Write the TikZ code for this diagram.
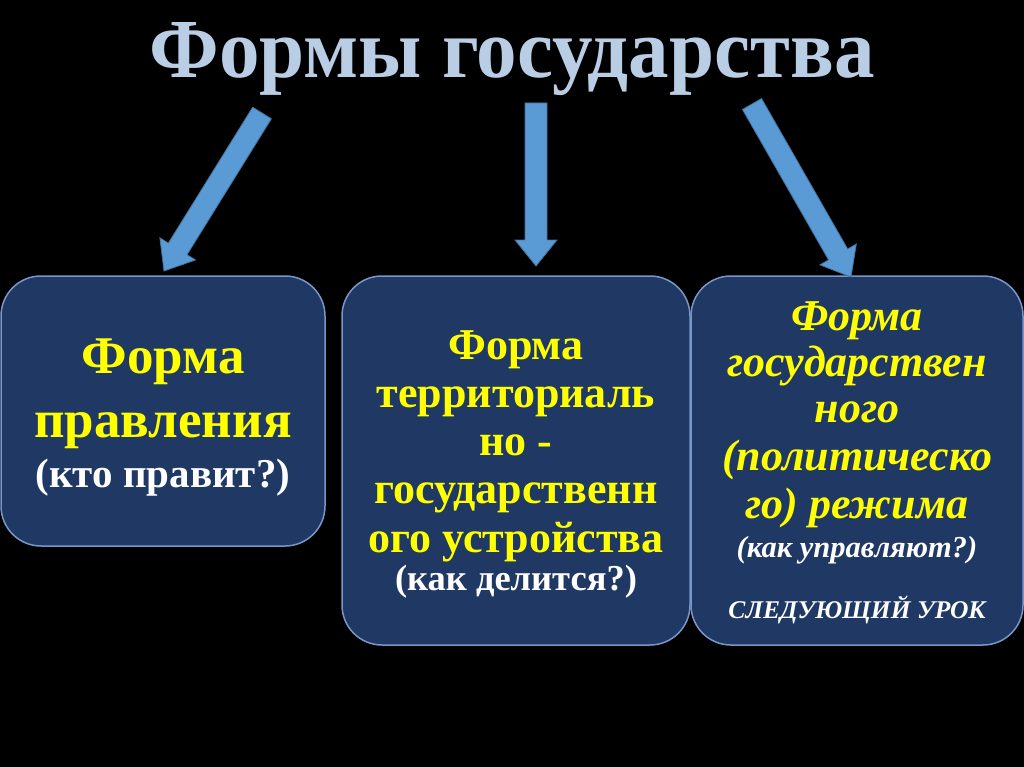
\documentclass[tikz,border=0pt]{standalone}
\usepackage{fontspec}
\setmainfont{Liberation Serif}
\usetikzlibrary{calc}
\definecolor{titlecol}{RGB}{185,205,229}
\definecolor{boxfill}{RGB}{31,56,100}
\definecolor{boxline}{RGB}{120,150,200}
\definecolor{arrowfill}{RGB}{91,155,213}
\definecolor{arrowline}{RGB}{65,113,156}
\definecolor{yel}{RGB}{255,255,0}
\tikzset{
  x=1pt, y=-1pt,
  card/.style={draw=boxline, line width=1.5pt, fill=boxfill, rounded corners=40pt, inner sep=0pt},
  bigarrow/.style={draw=arrowline, line width=0.8pt, fill=arrowfill, line join=miter},
  ytext/.style={text=yel, font=\bfseries\fontsize{53}{60}\selectfont, anchor=base, inner sep=0pt},
  ytextm/.style={text=yel, font=\bfseries\fontsize{44}{50}\selectfont, anchor=base, inner sep=0pt},
  yitext/.style={text=yel, font=\bfseries\itshape\fontsize{44}{50}\selectfont, anchor=base, inner sep=0pt},
  wtext/.style={text=white, font=\bfseries\fontsize{41}{48}\selectfont, anchor=base, inner sep=0pt},
  wtextm/.style={text=white, font=\bfseries\fontsize{36.5}{42}\selectfont, anchor=base, inner sep=0pt},
  witext/.style={text=white, font=\bfseries\itshape\fontsize{30.5}{36}\selectfont, anchor=base, inner sep=0pt},
  witextcaps/.style={text=white, font=\bfseries\itshape\fontsize{25.5}{30}\selectfont, anchor=base, inner sep=0pt},
  titletext/.style={text=titlecol, font=\bfseries\fontsize{84}{92}\selectfont, anchor=base, inner sep=0pt},
}
\newcommand{\blockarrow}[2]{%
  \draw[bigarrow] let \p1=(#1), \p2=(#2), \n1={atan2(\y2-\y1,\x2-\x1)}, \n2={veclen(\x2-\x1,\y2-\y1)} in
    ($(\p1)+(\n1+90:11pt)$) --
    ($(\p1)+(\n1:\n2-26pt)+(\n1+90:11pt)$) --
    ($(\p1)+(\n1:\n2-26pt)+(\n1+90:21pt)$) --
    (\p2) --
    ($(\p1)+(\n1:\n2-26pt)+(\n1-90:21pt)$) --
    ($(\p1)+(\n1:\n2-26pt)+(\n1-90:11pt)$) --
    ($(\p1)+(\n1-90:11pt)$) -- cycle;}
\begin{document}
\begin{tikzpicture}
\fill[black] (0,0) rectangle (1024,767);
\useasboundingbox (0,0) rectangle (1024,767);
% title
\node (title) [titletext] at (512,78) {\scalebox{0.965}[1]{Формы государства}};
% boxes
\node (b1) [card, minimum width=324pt, minimum height=270pt] at (163,411) {};
\node (b2) [card, minimum width=348pt, minimum height=369pt] at (516,460.5) {};
\node (b3) [card, minimum width=332pt, minimum height=369pt] at (857,460.5) {};
% arrows
\coordinate (t1) at (262,113);
\coordinate (h1) at (164,271);
\coordinate (t2) at (536,103);
\coordinate (h2) at (536,266);
\coordinate (t3) at (752,104);
\coordinate (h3) at (851,277);
\blockarrow{t1}{h1}
\blockarrow{t2}{h2}
\blockarrow{t3}{h3}
% box 1 text
\node[ytext] at (163,373) {Форма};
\node[ytext] at (163,437) {правления};
\node[wtext] at (163,487) {(кто правит?)};
% box 2 text
\node[ytextm] at (516,359) {Форма};
\node[ytextm] at (516,407) {территориаль};
\node[ytextm] at (516,455) {но -};
\node[ytextm] at (516,503) {государственн};
\node[ytextm] at (516,552) {ого устройства};
\node[wtextm] at (516,590) {(как делится?)};
% box 3 text
\node[yitext] at (857,330) {Форма};
\node[yitext] at (857,376) {государствен};
\node[yitext] at (857,422) {ного};
\node[yitext] at (857,470) {(политическо};
\node[yitext] at (857,518) {го) режима};
\node[witext] at (857,557) {(как управляют?)};
\node[witextcaps] at (857,618) {СЛЕДУЮЩИЙ УРОК};
\end{tikzpicture}
\end{document}
